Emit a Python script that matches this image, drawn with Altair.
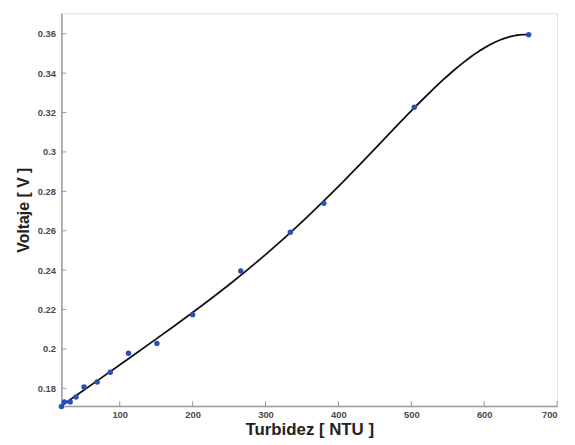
import altair as alt
import pandas as pd

turbidez = [20, 24, 32, 40, 51, 69, 87, 112, 151, 200, 266, 334, 380, 504, 661]
voltaje = [0.1708, 0.1731, 0.1731, 0.1756, 0.1807, 0.1832, 0.1882, 0.1978, 0.2028,
           0.2174, 0.2396, 0.2592, 0.2739, 0.3227, 0.3595]
x_ticks = [100, 200, 300, 400, 500, 600, 700]
y_ticks = [0.18, 0.20, 0.22, 0.24, 0.26, 0.28, 0.30, 0.32, 0.34, 0.36]

df = pd.DataFrame({"t": turbidez, "v": voltaje})
xt = pd.DataFrame({"t": x_ticks})
yt = pd.DataFrame({"v": y_ticks})

FONT = "Liberation Sans"
xscale = alt.Scale(domain=[20, 700], nice=False, zero=False)
yscale = alt.Scale(domain=[0.171, 0.3704], nice=False, zero=False)

xaxis = alt.Axis(title="Turbidez [ NTU ]", values=x_ticks, ticks=False, grid=False,
                 labelPadding=4, labelFontSize=9.5, labelFontWeight="bold", labelColor="#4a4a4a",
                 labelFont=FONT,
                 titleFont=FONT, titleFontSize=17, titleFontWeight="bold", titleColor="#222222",
                 titlePadding=2, domainColor="#9a9a9a", domainWidth=1.5)
yaxis = alt.Axis(title="Voltaje [ V ]", values=y_ticks, format="~g", ticks=False, grid=False,
                 labelPadding=6, labelFontSize=9.5, labelFontWeight="bold", labelColor="#4a4a4a",
                 labelFont=FONT,
                 titleFont=FONT, titleFontSize=16, titleFontWeight="bold", titleColor="#222222",
                 titlePadding=6, domainColor="#9a9a9a", domainWidth=1.5)

base = alt.Chart(df)

fit = base.transform_regression("t", "v", method="poly", order=5).mark_line(
    color="#111111", strokeWidth=1.8
).encode(
    x=alt.X("t:Q", scale=xscale, axis=xaxis),
    y=alt.Y("v:Q", scale=yscale, axis=yaxis),
)

pts = base.mark_circle(size=30, color="#2c4fb5", opacity=1).encode(
    x=alt.X("t:Q", scale=xscale),
    y=alt.Y("v:Q", scale=yscale),
)

xtick_marks = alt.Chart(xt).mark_rule(color="#9a9a9a", strokeWidth=1).encode(
    x=alt.X("t:Q", scale=xscale),
    y=alt.value(397),
    y2=alt.value(392),
)
ytick_marks = alt.Chart(yt).mark_rule(color="#9a9a9a", strokeWidth=1).encode(
    y=alt.Y("v:Q", scale=yscale),
    x=alt.value(0),
    x2=alt.value(5),
)

chart = alt.layer(xtick_marks, ytick_marks, fit, pts).properties(
    width=501, height=397,
    autosize=alt.AutoSizeParams(type="none"),
    padding={"left": 54, "top": 3, "right": 10, "bottom": 33},
).configure_view(stroke=None).configure(background="white")

chart.save("out.html", embed_options={"renderer": "svg", "actions": False})
